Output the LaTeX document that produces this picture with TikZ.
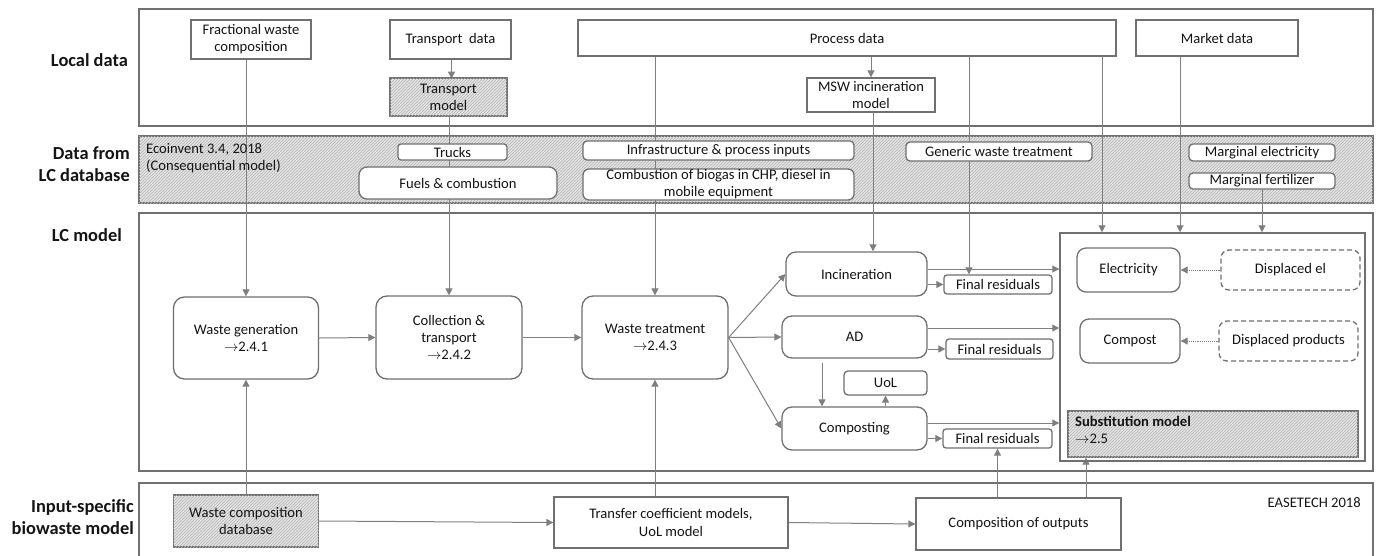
\documentclass[tikz,border=0pt]{standalone}
\usepackage{fontspec}
\setmainfont{Carlito}
\usetikzlibrary{arrows.meta,patterns}
\definecolor{ln}{HTML}{7F7F7F}
\definecolor{bd}{HTML}{707070}
\definecolor{tx}{HTML}{141414}
\pgfdeclarelayer{back}
\pgfdeclarelayer{mid}
\pgfsetlayers{back,mid,main}
\newcommand{\myra}{$\rightarrow$}
\begin{document}
\begin{tikzpicture}[x=1pt,y=-1pt,
  font=\fontsize{14.6}{17.2}\selectfont,
  box/.style={draw=bd, line width=1.3pt, fill=white, inner sep=0pt, align=center, text=tx},
  rbox/.style={box, rounded corners=11pt},
  sbox/.style={box, rounded corners=4pt},
  hatch/.style={fill=gray!20, postaction={pattern=north east lines, pattern color=gray!60}},
  hbox/.style={box, hatch},
  dbox/.style={box, dashed, dash pattern=on 5pt off 3pt, rounded corners=8pt},
  arr/.style={draw=ln, line width=1pt, -{Triangle[length=7pt,width=7pt]}},
  darr/.style={draw=ln, line width=0.9pt, densely dotted, -{Triangle[length=7pt,width=7pt]}},
  outer/.style={draw=bd, line width=1.8pt},
  lab/.style={font=\fontsize{18.4}{21.5}\selectfont\bfseries, align=right, anchor=east, text=tx, inner sep=0pt}
]
\useasboundingbox (0,0) rectangle (1380,555);

% ---- bands ----
\begin{pgfonlayer}{back}
\draw[outer, fill=white] (139,9) rectangle (1373,126);
\draw[outer, hatch] (139,136) rectangle (1373,203);
\draw[outer, fill=white] (139,213) rectangle (1373,471);
\draw[outer] (139,560) -- (139,483) -- (1373,483) -- (1373,560);
\end{pgfonlayer}

% ---- row labels ----
\node[lab] (l1) at (128,60) {Local data};
\node[lab] (l2) at (130,164) {Data from\\LC database};
\node[lab] (l3) at (122,235) {LC model};
\node[lab] (l4) at (134,517) {Input-specific\\biowaste model};

% ---- local data ----
\node[box, minimum width=120pt, minimum height=39pt] (fwc) at (251,39.5) {Fractional waste\\composition};
\node[box, minimum width=121pt, minimum height=39pt] (tdata) at (450.5,39.5) {Transport\ \ data};
\node[hbox, minimum width=117pt, minimum height=38pt] (tmodel) at (448.5,97) {Transport\\model};
\node[box, minimum width=538pt, minimum height=36pt] (pdata) at (847,38) {Process data};
\node[box, minimum width=128pt, minimum height=34pt] (msw) at (871,95) {MSW incineration\\model};
\node[box, minimum width=162pt, minimum height=36pt] (mdata) at (1217,38) {Market data};

% ---- LC database ----
\node[align=left, anchor=north west, inner sep=0pt, text=tx] (eco) at (146,143) {Ecoinvent 3.4, 2018\\(Consequential model)};
\node[sbox, rounded corners=3pt, minimum width=109pt, minimum height=16pt] (trucks) at (452.5,152) {Trucks};
\node[sbox, rounded corners=8pt, minimum width=198pt, minimum height=32pt] (fuels) at (458,183) {Fuels \& combustion};
\node[sbox, minimum width=271pt, minimum height=19pt] (infra) at (718.5,150.5) {Infrastructure \& process inputs};
\node[sbox, rounded corners=6pt, minimum width=271pt, minimum height=31pt] (comb) at (718.5,184.5) {Combustion of biogas in CHP, diesel in\\mobile equipment};
\node[sbox, minimum width=186pt, minimum height=19pt] (generic) at (999,151.5) {Generic waste treatment};
\node[sbox, minimum width=146pt, minimum height=17pt] (melec) at (1262,152.5) {Marginal electricity};
\node[sbox, minimum width=146pt, minimum height=16pt] (mfert) at (1262,181) {Marginal fertilizer};

% ---- LC model ----
\node[rbox, minimum width=145pt, minimum height=82pt] (wgen) at (246,338) {Waste generation\\\myra2.4.1};
\node[rbox, minimum width=146pt, minimum height=83pt] (coll) at (449,337.5) {Collection \&\\transport\\\myra2.4.2};
\node[rbox, minimum width=146pt, minimum height=83pt] (wtreat) at (655,337.5) {Waste treatment\\\myra2.4.3};
\node[rbox, rounded corners=10pt, minimum width=141pt, minimum height=44pt] (incin) at (856.5,274) {Incineration};
\node[sbox, rounded corners=3pt, minimum width=108pt, minimum height=19pt] (fr1) at (998,284.5) {Final residuals};
\node[rbox, rounded corners=10pt, minimum width=145pt, minimum height=42pt] (ad) at (854.5,337) {AD};
\node[sbox, rounded corners=3pt, minimum width=107pt, minimum height=20pt] (fr2) at (999.5,349) {Final residuals};
\node[sbox, minimum width=83pt, minimum height=24pt] (uol) at (885.5,383) {UoL};
\node[rbox, rounded corners=10pt, minimum width=145pt, minimum height=43pt] (compo) at (854.5,428.5) {Composting};
\node[sbox, rounded corners=3pt, minimum width=109pt, minimum height=19pt] (fr3) at (997.5,438.5) {Final residuals};

\node[box, line width=1.5pt, fill=none, minimum width=305pt, minimum height=228pt] (subst) at (1212.5,347) {};
\node[rbox, rounded corners=9pt, minimum width=103pt, minimum height=44pt] (elec) at (1128.5,270) {Electricity};
\node[dbox, minimum width=139pt, minimum height=40pt] (displel) at (1290.5,270) {Displaced el};
\node[rbox, rounded corners=9pt, minimum width=100pt, minimum height=44pt] (compost) at (1130,341) {Compost};
\node[dbox, minimum width=139pt, minimum height=40pt] (displprod) at (1288.5,341) {Displaced products};
\node[hbox, minimum width=290pt, minimum height=46pt] (smodel) at (1213,434) {};
\node[align=left, anchor=north west, inner sep=0pt, text=tx] (smtext) at (1075,416) {\textbf{Substitution model}\\\myra2.5};

% ---- input-specific ----
\node[hbox, minimum width=145pt, minimum height=52pt] (wcd) at (246,521) {Waste composition\\database};
\node[box, minimum width=234pt, minimum height=51pt] (tcm) at (671,522.5) {Transfer coefficient models,\\UoL model};
\node[box, minimum width=205pt, minimum height=52pt] (coo) at (1018.5,524) {Composition of outputs};
\node[anchor=east, inner sep=0pt, text=tx] (ease) at (1361,503) {EASETECH 2018};

% ---- helper coordinates ----
\coordinate (x969) at (969,0);
\coordinate (x1102) at (1102,0);
\coordinate (x1180) at (1180,0);
\coordinate (x1262) at (1262,0);
\coordinate (x822) at (822,0);
\coordinate (x1086) at (1086,0);
\coordinate (x873) at (873,0);

% ---- connectors ----
\begin{pgfonlayer}{mid}
\draw[arr] (fwc.south -| wgen.north) -- (wgen.north);
\draw[arr] (tdata.south -| tmodel.north) ++(3,0) -- ++(0,19);
\draw[arr] (tmodel.south -| coll.north) -- (coll.north);
\draw[arr] (pdata.south -| wtreat.north) -- (wtreat.north);
\draw[arr] (pdata.south -| msw.north) -- (msw.north);
\draw[arr] (msw.south -| x873) -- (incin.north -| x873);
\draw[arr] (pdata.south -| x969) -- (fr1.north -| x969);
\draw[arr] (pdata.south -| x1102) -- (subst.north -| x1102);
\draw[arr] (mdata.south -| x1180) -- (subst.north -| x1180);
\draw[arr] (mfert.south) -- (subst.north -| mfert.south);

\draw[arr] (wgen.east) -- (coll.west);
\draw[arr] (coll.east) -- (wtreat.west);
\draw[arr] (wtreat.east) -- (incin.west);
\draw[arr] (wtreat.east) -- (ad.west);
\draw[arr] (wtreat.east) -- (compo.west);

\draw[arr] ([yshift=5pt]incin.east) -- ([yshift=5pt]incin.east -| subst.west);
\draw[arr] (incin.east |- fr1.west) -- (fr1.west);
\draw[arr] ([yshift=9pt]ad.east) -- ([yshift=9pt]ad.east -| subst.west);
\draw[arr] (ad.east |- fr2.west) -- (fr2.west);
\draw[arr] ([yshift=5.5pt]compo.east) -- ([yshift=5.5pt]compo.east -| subst.west);
\draw[arr] (compo.east |- fr3.west) -- (fr3.west);
\draw[arr] ([yshift=-4pt]ad.south -| x822) -- (compo.north -| x822);
\draw[arr] (compo.north -| uol.south) -- (uol.south);

\draw[darr] (displel.west) -- (elec.east);
\draw[darr] (displprod.west) -- (compost.east);

\draw[arr] (wcd.north) -- (wgen.south);
\draw[arr] (wcd.east) -- (tcm.west);
\draw[arr] (tcm.north -| wtreat.south) -- (wtreat.south);
\draw[arr] (tcm.east) -- (coo.west);
\draw[arr] (coo.north -| fr3.south) -- (fr3.south);
\draw[arr] (coo.north -| x1086) -- (smodel.south -| x1086);
\end{pgfonlayer}
\end{tikzpicture}
\end{document}
